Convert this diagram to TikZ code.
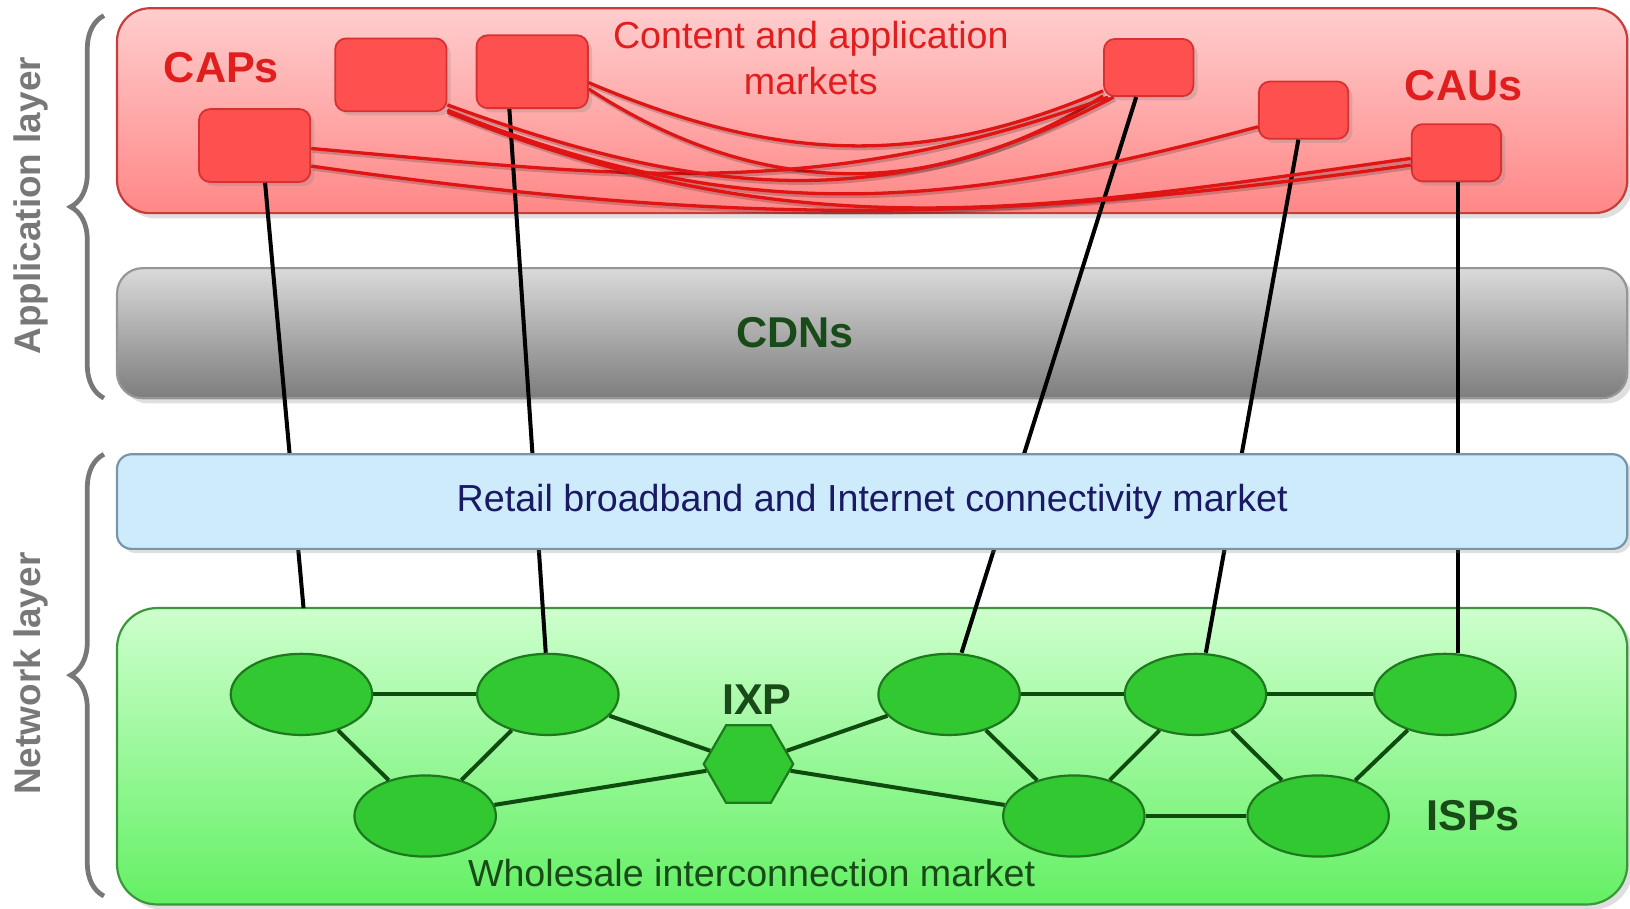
\documentclass[tikz,border=0pt]{standalone}
\usepackage{fontspec}
\setmainfont{Liberation Sans}
\usetikzlibrary{shapes.geometric,decorations.pathreplacing,shadows,calc}
\definecolor{redtop}{RGB}{255,205,205}
\definecolor{redbot}{RGB}{255,135,135}
\definecolor{redborder}{RGB}{200,60,60}
\definecolor{capfill}{RGB}{255,80,80}
\definecolor{capborder}{RGB}{215,50,50}
\definecolor{redtext}{RGB}{225,30,30}
\definecolor{redline}{RGB}{225,20,20}
\definecolor{graytop}{RGB}{218,218,218}
\definecolor{graybot}{RGB}{125,125,125}
\definecolor{grayborder}{RGB}{150,150,150}
\definecolor{bluefill}{RGB}{205,235,251}
\definecolor{blueborder}{RGB}{120,150,170}
\definecolor{navytext}{RGB}{25,25,100}
\definecolor{greentop}{RGB}{205,255,205}
\definecolor{greenbot}{RGB}{100,240,100}
\definecolor{greenborder}{RGB}{60,150,60}
\definecolor{ispfill}{RGB}{50,200,50}
\definecolor{ispborder}{RGB}{30,120,30}
\definecolor{ispedge}{RGB}{15,75,15}
\definecolor{darkgreentext}{RGB}{25,75,25}
\definecolor{bracecol}{RGB}{120,120,120}
\tikzset{
  layerbox/.style={rectangle, minimum width=14.52cm, inner sep=0pt, line width=0.6pt},
  marketbox/.style={rectangle, rounded corners=3pt, fill=capfill, draw=capborder, line width=0.5pt, inner sep=0pt,
     drop shadow={shadow xshift=0.04cm, shadow yshift=-0.04cm, opacity=0.25}},
  capbox/.style={marketbox, minimum width=1.07cm, minimum height=0.70cm},
  caubox/.style={marketbox, minimum width=0.86cm, minimum height=0.55cm},
  redlink/.style={draw=redline, line width=0.9pt,
     preaction={draw=black, opacity=0.18, line width=1.2pt, transform canvas={xshift=0.4pt, yshift=-0.6pt}}},
  blackline/.style={draw=black, line width=1.1pt},
  isp/.style={ellipse, fill=ispfill, draw=ispborder, line width=0.6pt, minimum width=1.36cm, minimum height=0.78cm, inner sep=0pt},
  ixp/.style={regular polygon, regular polygon sides=6, fill=ispfill, draw=ispborder, line width=0.6pt, minimum size=0.86cm, inner sep=0pt},
  ispedgestyle/.style={draw=ispedge, line width=1.1pt},
  bracestyle/.style={draw=bracecol, line width=1.3pt, decorate, decoration={brace, amplitude=0.32cm}},
  layerlabel/.style={rotate=90, text=bracecol, font=\fontsize{10.1pt}{12pt}\selectfont\bfseries},
  boldlabel/.style={font=\fontsize{11.8pt}{14pt}\selectfont\bfseries},
  plainlabel/.style={font=\fontsize{10.3pt}{12.4pt}\selectfont}
}
\begin{document}
\begin{tikzpicture}[x=0.01cm, y=-0.01cm]
\useasboundingbox (0,0) rectangle (1568,874);

% layer boxes
\node[layerbox, minimum height=1.97cm, rounded corners=9pt, top color=redtop, bottom color=redbot, draw=redborder,
  drop shadow={shadow xshift=0.05cm, shadow yshift=-0.05cm, opacity=0.25}] (app) at (839,106.5) {};
\node[layerbox, minimum height=1.25cm, rounded corners=7pt, top color=graytop, bottom color=graybot, draw=grayborder,
  drop shadow={shadow xshift=0.05cm, shadow yshift=-0.05cm, opacity=0.25}] (cdn) at (839,320.5) {};
\node[layerbox, minimum height=2.85cm, rounded corners=11pt, top color=greentop, bottom color=greenbot, draw=greenborder,
  drop shadow={shadow xshift=0.05cm, shadow yshift=-0.05cm, opacity=0.25}] (whole) at (839,727.5) {};

% braces and layer labels
\draw[bracestyle] (100,383) -- (100,15);
\draw[bracestyle] (100,862) -- (100,437);
\node[layerlabel] (applabel) at (30,198) {Application layer};
\node[layerlabel] (netlabel) at (30,648) {Network layer};

% ISP nodes
\node[isp] (e1) at (290,668) {};
\node[isp] (e2) at (527,668) {};
\node[isp] (e3) at (409,785) {};
\node[isp] (e4) at (913,668) {};
\node[isp] (e5) at (1150,668) {};
\node[isp] (e6) at (1390,668) {};
\node[isp] (e7) at (1033,785) {};
\node[isp] (e8) at (1268,785) {};
\node[ixp] (ixp) at (720,735) {};
\coordinate (g1) at (292,585);

% market boxes
\node[capbox] (cap1) at (245,140) {};
\node[capbox] (cap2) at (376,72) {};
\node[capbox] (cap3) at (512,69) {};
\node[caubox] (cau4) at (1105,65) {};
\node[caubox] (cau5) at (1254,106) {};
\node[caubox] (cau6) at (1401,147) {};

% vertical connectors (behind the retail box)
\draw[blackline] ([xshift=0.1cm]cap1.south) -- (g1);
\draw[blackline] ([xshift=-0.22cm]cap3.south) -- ([xshift=-0.02cm]e2.north);
\draw[blackline] ([xshift=-0.12cm]cau4.south) -- ([xshift=0.12cm]e4.north);
\draw[blackline] ([xshift=-0.05cm]cau5.south) -- ([xshift=0.1cm]e5.north);
\draw[blackline] ([xshift=0.02cm]cau6.south) -- ([xshift=0.02cm]cau6.south |- e6.north);

% retail box on top
\node[layerbox, minimum height=0.91cm, rounded corners=4pt, fill=bluefill, draw=blueborder,
  drop shadow={shadow xshift=0.04cm, shadow yshift=-0.04cm, opacity=0.25},
  text=navytext, plainlabel] (retail) at (839,482.5) {Retail broadband and Internet connectivity market};

% red market links
\draw[redlink] (cap3.-11) to[out=-23,in=203] (cau4.207);
\draw[redlink] (cap3.-17) to[out=-33,in=212] (cau4.212);
\draw[redlink] (cap1.-3) to[out=-5,in=200] (cau4.216);
\draw[redlink] (cap2.-28) to[out=-20,in=208] (cau4.220);
\draw[redlink] (cap2.-32) to[out=-22,in=195] (cau5.200);
\draw[redlink] (cap2.south east) to[out=-22,in=188] (cau6.187);
\draw[redlink] (cap1.-20) to[out=-8,in=188] (cau6.195);

% ISP edges
\draw[ispedgestyle] (e1) -- (e2);
\draw[ispedgestyle] (e1) -- (e3);
\draw[ispedgestyle] (e2) -- (e3);
\draw[ispedgestyle] (e2) -- (ixp);
\draw[ispedgestyle] (e3) -- (ixp);
\draw[ispedgestyle] (ixp) -- (e4);
\draw[ispedgestyle] (ixp) -- (e7);
\draw[ispedgestyle] (e4) -- (e5);
\draw[ispedgestyle] (e5) -- (e6);
\draw[ispedgestyle] (e4) -- (e7);
\draw[ispedgestyle] (e5) -- (e7);
\draw[ispedgestyle] (e5) -- (e8);
\draw[ispedgestyle] (e6) -- (e8);
\draw[ispedgestyle] (e7) -- (e8);

% labels
\node[boldlabel, text=darkgreentext] (cdnlabel) at (765,320) {CDNs};
\node[boldlabel, text=redtext] (caps) at (213,65) {CAPs};
\node[boldlabel, text=redtext] (caus) at (1408,82) {CAUs};
\node[plainlabel, text=redtext, align=center] (cam) at (780,56) {Content and application\\markets};
\node[boldlabel, text=darkgreentext] (ixplabel) at (728,673) {IXP};
\node[boldlabel, text=darkgreentext] (isps) at (1417,785) {ISPs};
\node[plainlabel, text=darkgreentext] (wim) at (723,840) {Wholesale interconnection market};
\end{tikzpicture}
\end{document}
